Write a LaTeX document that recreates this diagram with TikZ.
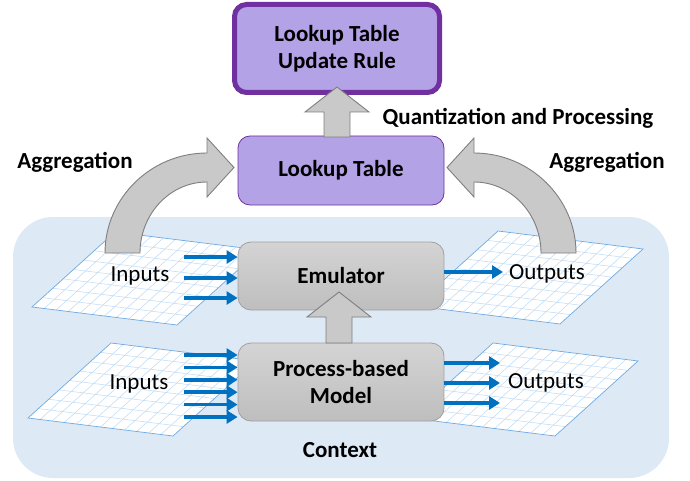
\documentclass[tikz,border=0pt]{standalone}
\usepackage{fontspec}
\setmainfont{Carlito}
\usepackage{tikz}
\usetikzlibrary{calc}
\usetikzlibrary{arrows.meta}
\definecolor{lilac}{RGB}{180,162,230}
\definecolor{plum}{RGB}{112,48,160}
\definecolor{skyfill}{RGB}{222,233,246}
\definecolor{gridline}{RGB}{190,218,245}
\definecolor{gridedge}{RGB}{110,170,225}
\definecolor{flowblue}{RGB}{0,112,192}
\definecolor{arrowgray}{RGB}{201,201,201}
\definecolor{arrowedge}{RGB}{127,127,127}
\definecolor{boxtop}{RGB}{212,212,212}
\definecolor{boxbot}{RGB}{190,190,190}
\definecolor{boxedge}{RGB}{160,160,160}
\newcommand{\bigfont}{\fontsize{23}{27}\selectfont}
\tikzset{
  lilacbox/.style={draw=plum, fill=lilac, rounded corners=12pt, align=center, font=\bigfont\bfseries},
  graybox/.style={draw=boxedge, line width=0.8pt, top color=boxtop, bottom color=boxbot, rounded corners=13pt, align=center, font=\bigfont\bfseries},
  bigarrow/.style={draw=arrowedge, fill=arrowgray, line width=0.9pt, line join=miter},
  flow/.style={flowblue, line width=3.6pt, -{Triangle[length=11pt,width=13pt]}},
  label/.style={font=\bigfont\bfseries}
}
% grid sheet: bottom-left corner x, y
\newcommand{\gridsheet}[2]{\fill[white] (#1,#2) -- ++(145,18) -- ++(83,-75) -- ++(-145,-18) -- cycle; \foreach \i in {1,...,11} { \draw[gridline, line width=0.5pt] ($(#1,#2)+\i/12*(145,18)$) -- ++(83,-75); } \foreach \j in {1,...,7} { \draw[gridline, line width=0.5pt] ($(#1,#2)+\j/8*(83,-75)$) -- ++(145,18); } \draw[gridedge, line width=0.7pt] (#1,#2) -- ++(145,18) -- ++(83,-75) -- ++(-145,-18) -- cycle;}
% block arrow pointing up: x, tip y, bottom y
\newcommand{\blockup}[3]{\filldraw[bigarrow] (#1-13,#3) -- (#1-13,#2+25) -- (#1-32,#2+25) -- (#1,#2) -- (#1+32,#2+25) -- (#1+13,#2+25) -- (#1+13,#3) -- cycle;}

\begin{document}
\begin{tikzpicture}[x=1pt, y=-1pt, font=\bigfont]
        \useasboundingbox (0,0) rectangle (690,481);
        % context
        \fill[skyfill, rounded corners=40pt] (13,217) rectangle (669,478);
        % grids
        \gridsheet{32}{307}
        \gridsheet{415}{306}
        \gridsheet{28}{418}
        \gridsheet{410}{418}
        % aggregation arrows
        \filldraw[bigarrow] (105,253) .. controls (105,198) and (151,153) .. (207,153) -- (207,138) -- (234,167.5) -- (207,197) -- (207,182) .. controls (170,182) and (140,214) .. (140,253) -- cycle;
        \filldraw[bigarrow] (576,253) .. controls (576,198) and (530,153) .. (474,153) -- (474,138) -- (447,167.5) -- (474,197) -- (474,182) .. controls (511,182) and (541,214) .. (541,253) -- cycle;
        % boxes
        \node[lilacbox, line width=5pt, minimum width=205pt, minimum height=88pt] (rule) at (337,48.5) {Lookup Table\\Update Rule};
        \node[lilacbox, line width=0.8pt, minimum width=206pt, minimum height=69pt] (lut) at (341,170.5) {Lookup Table};
        \node[graybox, minimum width=206pt, minimum height=68pt] (emu) at (341,276) {Emulator};
        \node[graybox, minimum width=206pt, minimum height=78pt] (pbm) at (341,382) {Process-based\\Model};
        % up arrows
        \blockup{337}{87}{137}
        \blockup{339}{292}{343}
        % inputs
        \foreach \y [count=\k] in {257,278,298} {
            \coordinate (ein\k) at (184,\y);
            \draw[flow] (ein\k) -- (ein\k -| emu.west);
        }
        \foreach \y [count=\k] in {355,367.4,379.8,392.2,404.6,417} {
            \coordinate (pin\k) at (184,\y);
            \draw[flow] (pin\k) -- (pin\k -| pbm.west);
        }
        % outputs
        \coordinate (eout) at (503,272);
        \draw[flow] (eout -| emu.east) -- (eout);
        \foreach \y [count=\k] in {363,383,403} {
            \coordinate (pout\k) at (500,\y);
            \draw[flow] (pout\k -| pbm.east) -- (pout\k);
        }
        % labels
        \node (eintext) at (140,276) {Inputs};
        \node (eouttext) at (547,274) {Outputs};
        \node (pintext) at (139,384) {Inputs};
        \node (pouttext) at (546,383) {Outputs};
        \node[label] (aggl) at (75,162) {Aggregation};
        \node[label] (aggr) at (607,162) {Aggregation};
        \node[label] (quant) at (518,118) {Quantization and Processing};
        \node[label] (ctx) at (340,450) {Context};
    \end{tikzpicture}
\end{document}
